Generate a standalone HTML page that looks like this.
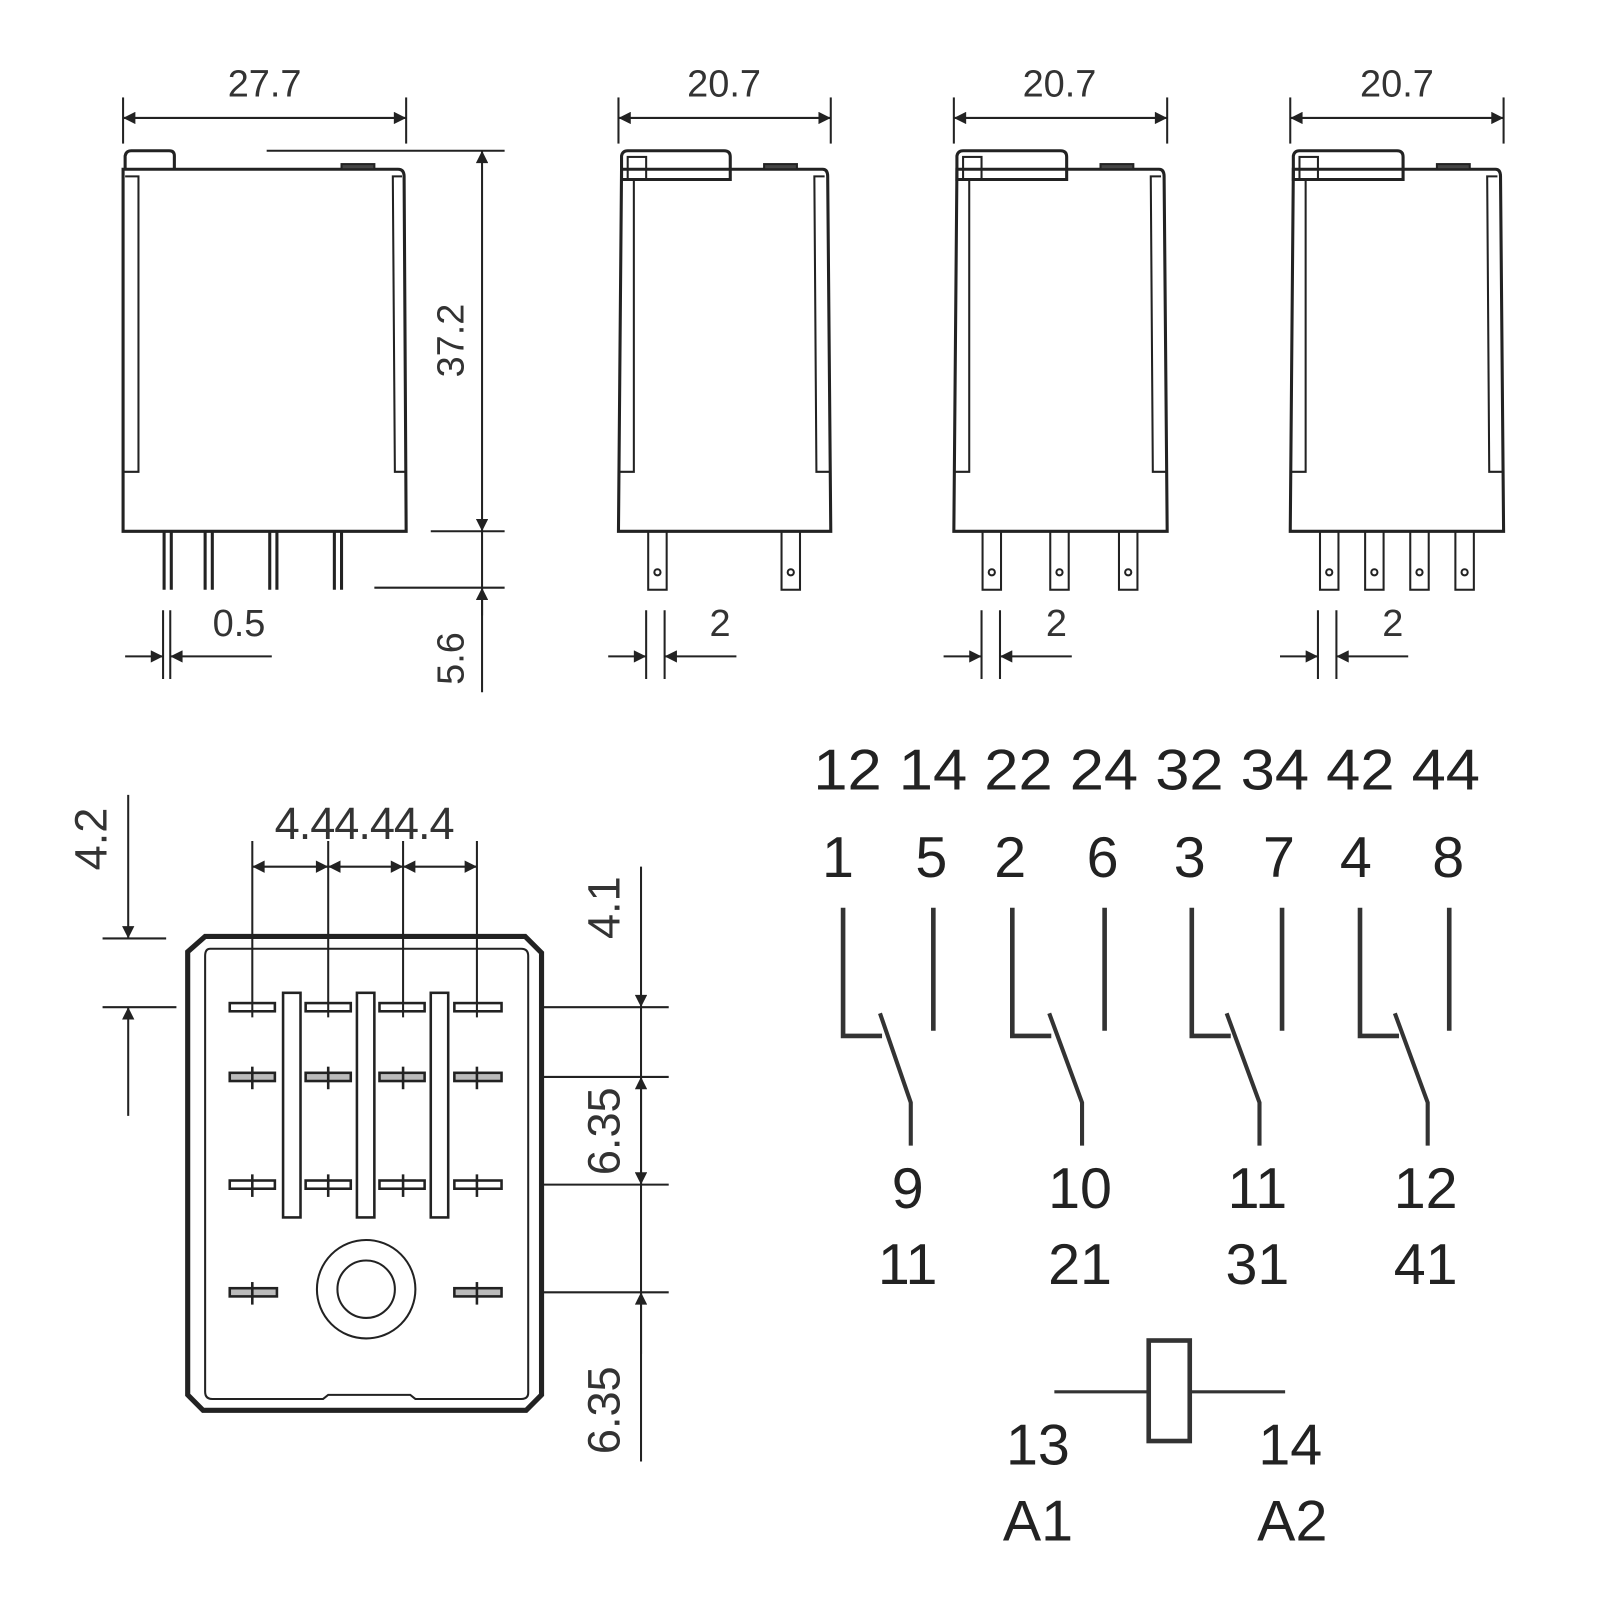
<!DOCTYPE html>
<html><head><meta charset="utf-8"><style>html,body{margin:0;padding:0;background:#fff}svg{display:block}</style></head><body>
<svg width="1600" height="1600" viewBox="0 0 1560 1560" xmlns="http://www.w3.org/2000/svg" font-family="Liberation Sans, sans-serif" fill="none" stroke="#222">
<defs>
<marker id="b" viewBox="0 0 10 10" refX="10" refY="5" markerWidth="16" markerHeight="12" orient="auto-start-reverse" markerUnits="userSpaceOnUse"><path d="M0,0 L10,5 L0,10 z" fill="#222" stroke="none"/></marker>
</defs>
<g stroke-width="2">
<!-- Relay 1 -->
<line x1="120" y1="95" x2="120" y2="140"/><line x1="396" y1="95" x2="396" y2="140"/>
<line x1="120" y1="115" x2="396" y2="115" marker-start="url(#b)" marker-end="url(#b)"/>
<path d="M122,165 L122,152 Q123,147 128,147 L165,147 Q170,147 170,152 L170,165" stroke-width="3"/>
<path d="M120,518 L120,165 L388,165 Q394,165 394,172 L396,518 Z" stroke-width="3"/>
<rect x="333" y="160" width="32" height="5" fill="#444"/>
<path d="M120,460 L135,460 L135,172 L122,172"/><path d="M396,460 L385,460 L383,172 L392,172"/>
<g stroke-width="3"><line x1="160" y1="518" x2="160" y2="575"/><line x1="167" y1="518" x2="167" y2="575"/>
<line x1="200" y1="518" x2="200" y2="575"/><line x1="207" y1="518" x2="207" y2="575"/>
<line x1="263" y1="518" x2="263" y2="575"/><line x1="270" y1="518" x2="270" y2="575"/>
<line x1="326" y1="518" x2="326" y2="575"/><line x1="333" y1="518" x2="333" y2="575"/></g>
<line x1="260" y1="147" x2="492" y2="147"/><line x1="420" y1="518" x2="492" y2="518"/><line x1="365" y1="573" x2="492" y2="573"/>
<line x1="470" y1="147" x2="470" y2="518" marker-start="url(#b)" marker-end="url(#b)"/>
<line x1="470" y1="518" x2="470" y2="675"/><line x1="470" y1="600" x2="470" y2="573" marker-end="url(#b)"/>
<line x1="159" y1="595" x2="159" y2="662"/><line x1="166" y1="595" x2="166" y2="662"/>
<line x1="122" y1="640" x2="159" y2="640" marker-end="url(#b)"/><line x1="265" y1="640" x2="166" y2="640" marker-end="url(#b)"/>
</g>
<g fill="#333" stroke="none" font-size="37">
<text x="258" y="94" text-anchor="middle">27.7</text>
<text x="233" y="620" text-anchor="middle">0.5</text>
<text transform="translate(452,332) rotate(-90)" text-anchor="middle">37.2</text>
<text transform="translate(452,642) rotate(-90)" text-anchor="middle">5.6</text>
<text x="706" y="94" text-anchor="middle">20.7</text>
<text x="1033" y="94" text-anchor="middle">20.7</text>
<text x="1362" y="94" text-anchor="middle">20.7</text>
<text x="702" y="620" text-anchor="middle">2</text>
<text x="1030" y="620" text-anchor="middle">2</text>
<text x="1358" y="620" text-anchor="middle">2</text>
</g>

<!-- 20.7 relays -->
<g stroke-width="2">
<line x1="603" y1="95" x2="603" y2="140"/><line x1="810" y1="95" x2="810" y2="140"/>
<line x1="603" y1="115" x2="810" y2="115" marker-start="url(#b)" marker-end="url(#b)"/>
<path d="M606,175 L606,152 Q607,147 612,147 L706,147 Q712,147 712,153 L712,175 Z" stroke-width="3"/>
<rect x="612" y="153" width="18" height="22"/>
<path d="M603,518 L606,165 L802,165 Q807,165 807,172 L810,518 Z" stroke-width="3"/>
<rect x="745" y="160" width="32" height="5" fill="#444"/>
<path d="M603,460 L618,460 L618,175"/><path d="M810,460 L796,460 L794,172 L804,172"/>
<rect x="632" y="518" width="18" height="57"/><circle cx="641" cy="558" r="3"/>
<rect x="762" y="518" width="18" height="57"/><circle cx="771" cy="558" r="3"/>
<line x1="630" y1="595" x2="630" y2="662"/><line x1="648" y1="595" x2="648" y2="662"/>
<line x1="593" y1="640" x2="630" y2="640" marker-end="url(#b)"/><line x1="718" y1="640" x2="648" y2="640" marker-end="url(#b)"/>
</g>
<g stroke-width="2">
<line x1="930" y1="95" x2="930" y2="140"/><line x1="1138" y1="95" x2="1138" y2="140"/>
<line x1="930" y1="115" x2="1138" y2="115" marker-start="url(#b)" marker-end="url(#b)"/>
<path d="M933,175 L933,152 Q934,147 939,147 L1034,147 Q1040,147 1040,153 L1040,175 Z" stroke-width="3"/>
<rect x="939" y="153" width="18" height="22"/>
<path d="M930,518 L933,165 L1130,165 Q1135,165 1135,172 L1138,518 Z" stroke-width="3"/>
<rect x="1073" y="160" width="32" height="5" fill="#444"/>
<path d="M930,460 L945,460 L945,175"/><path d="M1138,460 L1124,460 L1122,172 L1132,172"/>
<rect x="958" y="518" width="18" height="57"/><circle cx="967" cy="558" r="3"/>
<rect x="1024" y="518" width="18" height="57"/><circle cx="1033" cy="558" r="3"/>
<rect x="1091" y="518" width="18" height="57"/><circle cx="1100" cy="558" r="3"/>
<line x1="957" y1="595" x2="957" y2="662"/><line x1="975" y1="595" x2="975" y2="662"/>
<line x1="920" y1="640" x2="957" y2="640" marker-end="url(#b)"/><line x1="1045" y1="640" x2="975" y2="640" marker-end="url(#b)"/>
</g>
<g stroke-width="2">
<line x1="1258" y1="95" x2="1258" y2="140"/><line x1="1466" y1="95" x2="1466" y2="140"/>
<line x1="1258" y1="115" x2="1466" y2="115" marker-start="url(#b)" marker-end="url(#b)"/>
<path d="M1261,175 L1261,152 Q1262,147 1267,147 L1362,147 Q1368,147 1368,153 L1368,175 Z" stroke-width="3"/>
<rect x="1267" y="153" width="18" height="22"/>
<path d="M1258,518 L1261,165 L1458,165 Q1463,165 1463,172 L1466,518 Z" stroke-width="3"/>
<rect x="1401" y="160" width="32" height="5" fill="#444"/>
<path d="M1258,460 L1273,460 L1273,175"/><path d="M1466,460 L1452,460 L1450,172 L1460,172"/>
<rect x="1287" y="518" width="18" height="57"/><circle cx="1296" cy="558" r="3"/>
<rect x="1331" y="518" width="18" height="57"/><circle cx="1340" cy="558" r="3"/>
<rect x="1375" y="518" width="18" height="57"/><circle cx="1384" cy="558" r="3"/>
<rect x="1419" y="518" width="18" height="57"/><circle cx="1428" cy="558" r="3"/>
<line x1="1285" y1="595" x2="1285" y2="662"/><line x1="1303" y1="595" x2="1303" y2="662"/>
<line x1="1248" y1="640" x2="1285" y2="640" marker-end="url(#b)"/><line x1="1373" y1="640" x2="1303" y2="640" marker-end="url(#b)"/>
</g>

<!-- Bottom view -->
<g stroke-width="2">
<path d="M200,913 L512,913 L528,929 L528,1360 L513,1375 L198,1375 L183,1360 L183,928 Z" stroke-width="5"/>
<path d="M205,925 L508,925 Q515,925 515,932 L515,1358 Q515,1364 508,1364 L405,1364 L400,1360 L320,1360 L315,1364 L207,1364 Q200,1364 200,1357 L200,932 Q200,925 205,925 Z"/>
<g stroke-width="2.5">
<rect x="224" y="978" width="44" height="8"/><rect x="298" y="978" width="44" height="8"/><rect x="370" y="978" width="44" height="8"/><rect x="443" y="978" width="46" height="8"/>
<rect x="224" y="1046" width="44" height="8" fill="#bbb"/><rect x="298" y="1046" width="44" height="8" fill="#bbb"/><rect x="370" y="1046" width="44" height="8" fill="#bbb"/><rect x="443" y="1046" width="46" height="8" fill="#bbb"/>
<rect x="224" y="1151" width="44" height="8"/><rect x="298" y="1151" width="44" height="8"/><rect x="370" y="1151" width="44" height="8"/><rect x="443" y="1151" width="46" height="8"/>
<rect x="224" y="1256" width="46" height="8" fill="#bbb"/><rect x="443" y="1256" width="46" height="8" fill="#bbb"/>
<rect x="276" y="968" width="17" height="219" fill="#fff" stroke-width="2.5"/>
<rect x="348" y="968" width="17" height="219" fill="#fff" stroke-width="2.5"/>
<rect x="420" y="968" width="17" height="219" fill="#fff" stroke-width="2.5"/>
<line x1="246" y1="1040" x2="246" y2="1062"/><line x1="320" y1="1040" x2="320" y2="1062"/><line x1="393" y1="1040" x2="393" y2="1062"/><line x1="465" y1="1040" x2="465" y2="1062"/>
<line x1="246" y1="1145" x2="246" y2="1167"/><line x1="320" y1="1145" x2="320" y2="1167"/><line x1="393" y1="1145" x2="393" y2="1167"/><line x1="465" y1="1145" x2="465" y2="1167"/>
<line x1="246" y1="1250" x2="246" y2="1272"/><line x1="465" y1="1250" x2="465" y2="1272"/>
</g>
<circle cx="357" cy="1257" r="48"/><circle cx="357" cy="1257" r="28"/>
<line x1="246" y1="820" x2="246" y2="992"/><line x1="320" y1="820" x2="320" y2="992"/><line x1="393" y1="820" x2="393" y2="992"/><line x1="465" y1="820" x2="465" y2="992"/>
<line x1="246" y1="845" x2="320" y2="845" marker-start="url(#b)" marker-end="url(#b)"/>
<line x1="320" y1="845" x2="393" y2="845" marker-start="url(#b)" marker-end="url(#b)"/>
<line x1="393" y1="845" x2="465" y2="845" marker-start="url(#b)" marker-end="url(#b)"/>
<line x1="100" y1="915" x2="162" y2="915"/><line x1="100" y1="982" x2="172" y2="982"/>
<line x1="125" y1="775" x2="125" y2="915" marker-end="url(#b)"/><line x1="125" y1="1088" x2="125" y2="982" marker-end="url(#b)"/>
<line x1="528" y1="982" x2="652" y2="982"/><line x1="528" y1="1050" x2="652" y2="1050"/><line x1="528" y1="1155" x2="652" y2="1155"/><line x1="528" y1="1260" x2="652" y2="1260"/>
<line x1="625" y1="845" x2="625" y2="982" marker-end="url(#b)"/>
<line x1="625" y1="982" x2="625" y2="1425"/>
<line x1="625" y1="1100" x2="625" y2="1050" marker-end="url(#b)"/>
<line x1="625" y1="1100" x2="625" y2="1155" marker-end="url(#b)"/>
<line x1="625" y1="1320" x2="625" y2="1260" marker-end="url(#b)"/>
</g>
<g fill="#333" stroke="none" font-size="44">
<text x="355" y="818" text-anchor="middle" letter-spacing="-1">4.44.44.4</text>
<text transform="translate(104,818) rotate(-90)" text-anchor="middle">4.2</text>
<text transform="translate(604,885) rotate(-90)" text-anchor="middle">4.1</text>
<text transform="translate(604,1103) rotate(-90)" text-anchor="middle">6.35</text>
<text transform="translate(604,1375) rotate(-90)" text-anchor="middle">6.35</text>
</g>

<!-- Schematic -->
<g fill="#222" stroke="none" font-size="56">
<text x="1118" y="770" text-anchor="middle" textLength="650" lengthAdjust="spacingAndGlyphs">12 14 22 24 32 34 42 44</text>
<text x="817" y="855" text-anchor="middle">1</text><text x="908" y="855" text-anchor="middle">5</text>
<text x="985" y="855" text-anchor="middle">2</text><text x="1075" y="855" text-anchor="middle">6</text>
<text x="1160" y="855" text-anchor="middle">3</text><text x="1247" y="855" text-anchor="middle">7</text>
<text x="1322" y="855" text-anchor="middle">4</text><text x="1412" y="855" text-anchor="middle">8</text>
<text x="885" y="1178" text-anchor="middle">9</text><text x="885" y="1252" text-anchor="middle">11</text>
<text x="1053" y="1178" text-anchor="middle">10</text><text x="1053" y="1252" text-anchor="middle">21</text>
<text x="1226" y="1178" text-anchor="middle">11</text><text x="1226" y="1252" text-anchor="middle">31</text>
<text x="1390" y="1178" text-anchor="middle">12</text><text x="1390" y="1252" text-anchor="middle">41</text>
<text x="1012" y="1428" text-anchor="middle">13</text><text x="1012" y="1502" text-anchor="middle">A1</text>
<text x="1258" y="1428" text-anchor="middle">14</text><text x="1260" y="1502" text-anchor="middle">A2</text>
</g>
<g stroke-width="4.5" stroke="#333">
<path d="M822,885 L822,1010 L860,1010"/><path d="M858,988 L888,1075 L888,1117" stroke-width="4"/><line x1="910" y1="885" x2="910" y2="1005"/>
<path d="M987,885 L987,1010 L1025,1010"/><path d="M1023,988 L1055,1075 L1055,1117" stroke-width="4"/><line x1="1077" y1="885" x2="1077" y2="1005"/>
<path d="M1162,885 L1162,1010 L1200,1010"/><path d="M1196,988 L1228,1075 L1228,1117" stroke-width="4"/><line x1="1250" y1="885" x2="1250" y2="1005"/>
<path d="M1326,885 L1326,1010 L1364,1010"/><path d="M1360,988 L1392,1075 L1392,1117" stroke-width="4"/><line x1="1413" y1="885" x2="1413" y2="1005"/>
<rect x="1120" y="1307" width="40" height="98"/>
<line x1="1028" y1="1357" x2="1120" y2="1357" stroke-width="3"/><line x1="1160" y1="1357" x2="1253" y2="1357" stroke-width="3"/>
</g>
</svg>
</body></html>
